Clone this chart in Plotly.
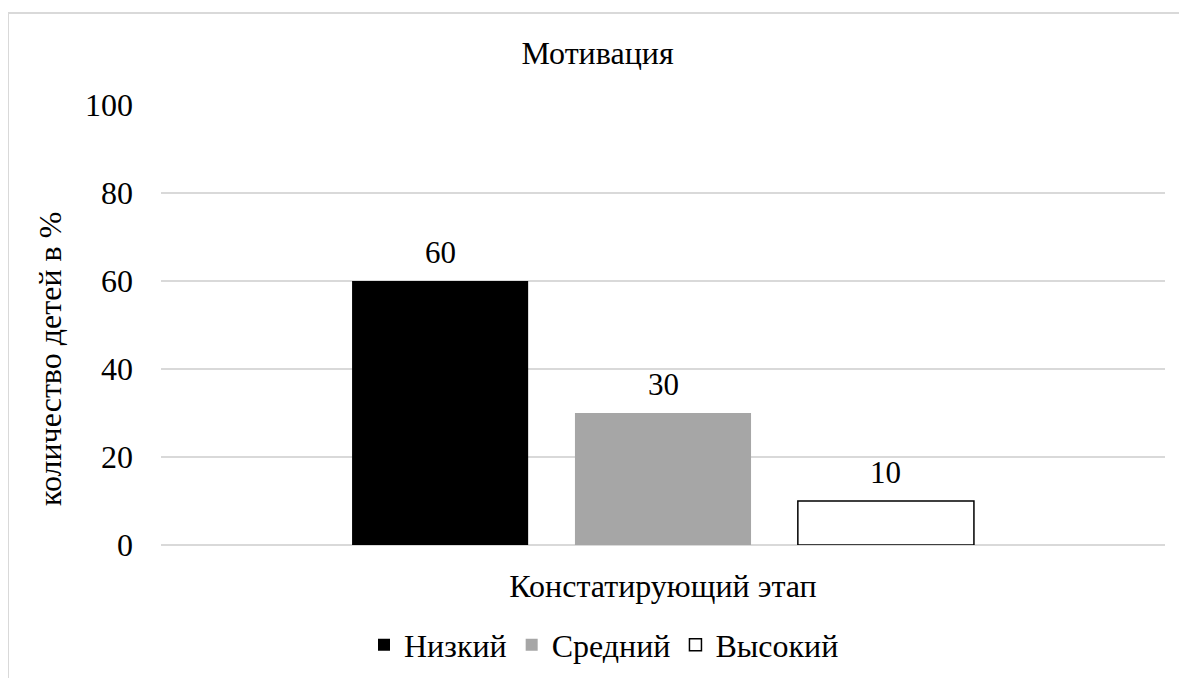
import plotly.graph_objects as go

categories = ["Констатирующий этап"]
series_names = ["Низкий", "Средний", "Высокий"]
series_values = [[60], [30], [10]]
series_colors = ["#000000", "#a6a6a6", "#ffffff"]
series_line_widths = [0, 0, 1.5]
y_ticks = [0, 20, 40, 60, 80, 100]
y_title = "количество детей в %"

FONT = "Liberation Serif"
GRID = "#d9d9d9"
BARGAP = 0.334
BARGROUPGAP = 0.21

fig = go.Figure()
for name, vals, col, lw in zip(series_names, series_values, series_colors, series_line_widths):
    fig.add_trace(go.Bar(
        name=name, x=categories, y=vals,
        marker=dict(color=col, line=dict(color="#000000", width=lw)),
        cliponaxis=False,
    ))

W, H = 1179, 670
L, R, T, B = 153, 22, 97, 133
pw, ph = W - L - R, H - T - B

def px_x(p):
    return (p - L) / pw

def px_y(p):
    return (H - B - p) / ph

# value labels, placed above each bar of the group
n = len(series_names)
slot = (1 - BARGAP) / n
annotations = []
for i, vals in enumerate(series_values):
    for ci, v in enumerate(vals):
        annotations.append(dict(
            xref="x", yref="y", x=ci + (i - (n - 1) / 2) * slot, y=v,
            text=str(v), showarrow=False, yanchor="middle", yshift=29,
            font=dict(family=FONT, size=31, color="black"),
        ))

# y-axis title (offset downward as in the original)
annotations.append(dict(
    xref="paper", yref="paper", x=px_x(42), y=px_y(351), xanchor="center", yanchor="middle",
    text=y_title, textangle=-90, showarrow=False,
    font=dict(family=FONT, size=32, color="black"),
))

fig.update_layout(
    template="none",
    width=W, height=H,
    margin=dict(l=L, r=R, t=T, b=B, autoexpand=False),
    paper_bgcolor="white", plot_bgcolor="white",
    font=dict(family=FONT, color="black"),
    barmode="group", bargap=BARGAP, bargroupgap=BARGROUPGAP,
    title=dict(text="Мотивация", x=0.5, xanchor="center", y=1 - 45 / H, yanchor="middle",
               font=dict(family=FONT, size=32)),
    xaxis=dict(showgrid=False, showline=False, ticks="", ticklabelstandoff=19,
               tickfont=dict(family=FONT, size=32)),
    yaxis=dict(range=[0, 100], tickvals=y_ticks, showgrid=True, gridcolor=GRID, gridwidth=1.5,
               zeroline=True, zerolinecolor=GRID, zerolinewidth=2, showline=False,
               ticks="", ticklabelstandoff=27,
               tickfont=dict(family=FONT, size=32)),
    legend=dict(orientation="h", xref="container", yref="container",
                x=596 / W, xanchor="center", y=1 - 637 / H, yanchor="middle",
                font=dict(family=FONT, size=32), itemwidth=30, traceorder="normal",
                bgcolor="rgba(0,0,0,0)"),
    showlegend=True,
    annotations=annotations,
    shapes=[dict(type="rect", xref="paper", yref="paper",
                 x0=px_x(0), x1=px_x(1300), y0=px_y(5), y1=px_y(800),
                 line=dict(color=GRID, width=2), fillcolor="rgba(0,0,0,0)", layer="below")],
)

fig.write_html("out.html")
